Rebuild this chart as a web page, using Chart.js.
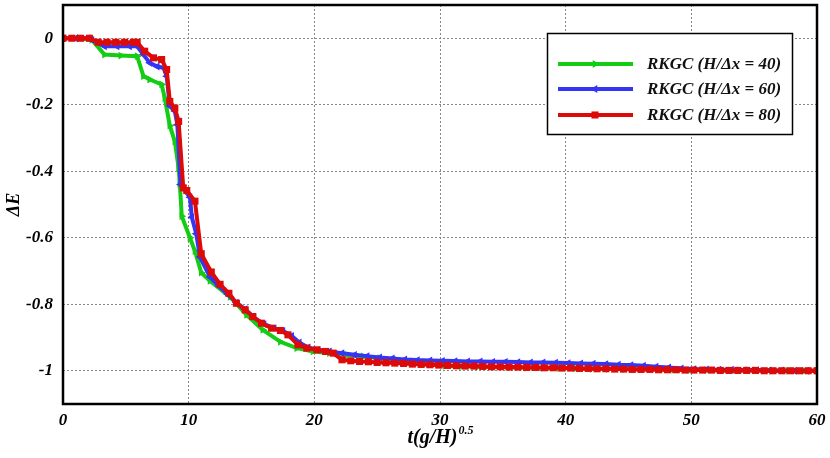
<!DOCTYPE html>
<html>
<head>
<meta charset="utf-8">
<script src="https://cdn.jsdelivr.net/npm/chart.js@4.4.0/dist/chart.umd.min.js"></script>
<style>
html, body { margin: 0; padding: 0; background: #fff; }
</style>
</head>
<body>
<canvas id="energy" width="830" height="458"></canvas>
<script>
// series names
var seriesLabels = ['RKGC (H/\u0394x = 40)', 'RKGC (H/\u0394x = 60)', 'RKGC (H/\u0394x = 80)'];

// H/dx = 40
var tGreen = [0, 1.3, 2.3, 3.3, 4.6, 5.9, 6.4, 6.9, 7.85, 8.1, 8.5, 8.9, 9.2, 9.3, 9.45, 10.1, 10.5, 11.0, 11.7,
  13.3, 14.6, 15.9, 17.3, 18.6, 19.9, 21.2, 22.6, 23.9, 25.2, 26.5, 27.8, 29.1, 30.4, 31.7, 33.0, 34.3, 35.6,
  36.9, 38.2, 39.5, 40.8, 42.1, 43.4, 44.7, 46.0, 47.3, 48.6, 49.9, 51.2, 52.5, 53.8, 55.1, 56.4, 57.7, 59.0, 60];
var eGreen = [0, 0, -0.005, -0.049, -0.052, -0.054, -0.114, -0.124, -0.139, -0.18, -0.263, -0.31, -0.39, -0.44, -0.535, -0.6, -0.64, -0.705, -0.73,
  -0.778, -0.832, -0.877, -0.913, -0.932, -0.942, -0.947, -0.952, -0.957, -0.962, -0.966, -0.972, -0.98, -0.985, -0.987, -0.988, -0.989, -0.99,
  -0.991, -0.991, -0.992, -0.993, -0.994, -0.994, -0.995, -0.996, -0.996, -0.997, -0.998, -0.998, -0.999, -0.999, -0.999, -1, -1, -1, -1];

// H/dx = 60
var tBlue = [0, 1, 2, 2.3, 3.3, 4.3, 5.3, 5.9, 6.4, 6.9, 7.5, 8.0, 8.25, 8.5, 8.9, 9.1, 9.35, 10.1, 10.25, 10.6, 10.9, 11.7,
  12.4, 13.1, 13.8, 14.5, 15.2, 16.0, 16.8, 17.5, 18.2, 18.8, 19.5, 20.3, 21.2, 22.2, 23.2, 24.2, 25.2, 26.2, 27.2, 28.2,
  29.2, 30.2, 31.2, 32.2, 33.2, 34.2, 35.2, 36.2, 37.2, 38.2, 39.2, 40.2, 41.2, 42.2, 43.2, 44.2, 45.2, 46.2, 47.2, 48.2,
  49.2, 50.2, 51.2, 52.2, 53.2, 54.2, 55.2, 56.2, 57.2, 58.2, 59.2, 60];
var eBlue = [0, 0, 0, -0.005, -0.024, -0.024, -0.024, -0.024, -0.049, -0.074, -0.085, -0.089, -0.114, -0.204, -0.219, -0.26, -0.44, -0.478, -0.538, -0.588, -0.658, -0.718,
  -0.745, -0.77, -0.795, -0.815, -0.84, -0.86, -0.872, -0.88, -0.895, -0.915, -0.93, -0.937, -0.942, -0.947, -0.952, -0.956, -0.96, -0.963, -0.966, -0.968,
  -0.969, -0.97, -0.971, -0.972, -0.972, -0.973, -0.973, -0.974, -0.975, -0.975, -0.976, -0.977, -0.978, -0.979, -0.98, -0.982, -0.983, -0.985, -0.988, -0.99,
  -0.993, -0.995, -0.996, -0.997, -0.997, -0.998, -0.998, -0.999, -0.999, -1, -1, -1];

// H/dx = 80
var tRed = [0, 0.7, 1.4, 2.1, 2.8, 3.5, 4.2, 4.9, 5.6, 5.9, 6.5, 7.2, 7.85, 8.25, 8.5, 8.9, 9.2, 9.57, 9.85, 10.5, 11.0, 11.8,
  12.5, 13.2, 13.8, 14.5, 15.1, 15.8, 16.6, 17.3, 17.9, 18.7, 19.4, 20.2, 20.9, 21.5, 22.2, 22.9, 23.6, 24.3, 25.0, 25.7,
  26.4, 27.1, 27.8, 28.5, 29.2, 29.9, 30.6, 31.3, 32.0, 32.7, 33.4, 34.1, 34.8, 35.5, 36.2, 36.9, 37.6, 38.3, 39.0, 39.7,
  40.4, 41.1, 41.8, 42.5, 43.2, 43.9, 44.6, 45.3, 46.0, 46.7, 47.4, 48.1, 48.8, 49.5, 50.2, 50.9, 51.6, 52.3, 53.0, 53.7,
  54.4, 55.1, 55.8, 56.5, 57.2, 57.9, 58.6, 59.3, 60];
var eRed = [0, 0, 0, 0, -0.012, -0.012, -0.012, -0.012, -0.012, -0.012, -0.039, -0.059, -0.064, -0.094, -0.19, -0.21, -0.25, -0.45, -0.458, -0.49, -0.648, -0.703,
  -0.74, -0.767, -0.797, -0.817, -0.837, -0.857, -0.872, -0.879, -0.892, -0.922, -0.932, -0.937, -0.942, -0.947, -0.967, -0.97, -0.972, -0.973, -0.975, -0.976,
  -0.977, -0.978, -0.98, -0.981, -0.982, -0.983, -0.984, -0.985, -0.986, -0.986, -0.987, -0.988, -0.988, -0.989, -0.989, -0.99, -0.99, -0.991, -0.991, -0.992,
  -0.992, -0.993, -0.993, -0.994, -0.994, -0.995, -0.995, -0.996, -0.996, -0.996, -0.997, -0.997, -0.997, -0.998, -0.998, -0.998, -0.998, -0.999, -0.999, -0.999,
  -0.999, -0.999, -1, -1, -1, -1, -1, -1, -1];

var xTicks = [0, 10, 20, 30, 40, 50, 60];
var yTicks = [0, -0.2, -0.4, -0.6, -0.8, -1];

var colors = ['#14cc14', '#3535f5', '#dd0a0a'];
var styles = ['triangle', 'triangle', 'rect'];
var rotations = [90, -90, 0];

function pairs(t, e) {
  return t.map(function (v, i) { return { x: v, y: e[i] }; });
}

var serif = '"Liberation Serif", "Times New Roman", serif';

var framePlugin = {
  id: 'frame',
  afterDraw: function (chart) {
    var ctx = chart.ctx, a = chart.chartArea;
    ctx.save();
    ctx.strokeStyle = '#000';
    ctx.lineWidth = 2.5;
    ctx.strokeRect(a.left, a.top, a.right - a.left, a.bottom - a.top);

    // y title
    ctx.fillStyle = '#000';
    ctx.font = 'italic bold 18px ' + serif;
    ctx.textAlign = 'center';
    ctx.textBaseline = 'middle';
    ctx.save();
    ctx.translate(14, (a.top + a.bottom) / 2);
    ctx.rotate(-Math.PI / 2);
    ctx.fillText('\u0394E', 0, 0);
    ctx.restore();

    // x title with superscript
    ctx.textAlign = 'left';
    ctx.textBaseline = 'alphabetic';
    var main = 't(g/H)', sup = '0.5';
    ctx.font = 'italic bold 20px ' + serif;
    var w1 = ctx.measureText(main).width;
    ctx.font = 'italic bold 12px ' + serif;
    var w2 = ctx.measureText(sup).width;
    var x0 = 440 - (w1 + w2) / 2;
    ctx.font = 'italic bold 20px ' + serif;
    ctx.fillText(main, x0, 443);
    ctx.font = 'italic bold 12px ' + serif;
    ctx.fillText(sup, x0 + w1 + 1, 434);

    // legend
    var lx = 547.5, ly = 33.5, lw = 245, lh = 101;
    ctx.fillStyle = '#fff';
    ctx.fillRect(lx, ly, lw, lh);
    ctx.strokeStyle = '#000';
    ctx.lineWidth = 1.5;
    ctx.strokeRect(lx, ly, lw, lh);
    var rows = [64, 89, 115];
    chart.data.datasets.forEach(function (ds, i) {
      var y = rows[i];
      ctx.strokeStyle = ds.borderColor;
      ctx.lineWidth = 4;
      ctx.beginPath();
      ctx.moveTo(558, y);
      ctx.lineTo(633, y);
      ctx.stroke();
      ctx.fillStyle = ds.borderColor;
      Chart.helpers.drawPoint(ctx, { pointStyle: ds.pointStyle, rotation: ds.pointRotation, radius: ds.pointRadius, borderWidth: 0 }, 595, y);
      ctx.fillStyle = '#111';
      ctx.font = 'italic bold 17px ' + serif;
      ctx.textBaseline = 'middle';
      ctx.fillText(ds.label, 647, y + 1);
    });
    ctx.restore();
  }
};

new Chart(document.getElementById('energy').getContext('2d'), {
  type: 'line',
  data: {
    datasets: [
      { label: seriesLabels[0], data: pairs(tGreen, eGreen), order: 3 },
      { label: seriesLabels[1], data: pairs(tBlue, eBlue), order: 2 },
      { label: seriesLabels[2], data: pairs(tRed, eRed), order: 1 }
    ].map(function (ds, i) {
      ds.borderColor = colors[i];
      ds.backgroundColor = colors[i];
      ds.borderWidth = 4;
      ds.pointStyle = styles[i];
      ds.pointRotation = rotations[i];
      ds.pointRadius = i === 2 ? 5 : 4.5;
      ds.pointBorderWidth = 0;
      ds.tension = 0;
      ds.fill = false;
      return ds;
    })
  },
  options: {
    responsive: false,
    animation: false,
    layout: { padding: { top: 4, right: 13, left: 0, bottom: 0 } },
    plugins: { legend: { display: false }, tooltip: { enabled: false } },
    scales: {
      x: {
        type: 'linear',
        min: 0,
        max: 60,
        afterBuildTicks: function (s) { s.ticks = xTicks.map(function (v) { return { value: v }; }); },
        afterFit: function (s) { s.height = 54; s.paddingLeft = 0; s.paddingRight = 0; },
        ticks: { color: '#000', padding: 6, font: { family: serif, size: 17, style: 'italic', weight: 'bold' } },
        grid: { color: '#888', lineWidth: 1, drawTicks: false },
        border: { display: false, dash: [2, 2] }
      },
      y: {
        min: -1.1,
        max: 0.1,
        afterBuildTicks: function (s) { s.ticks = yTicks.map(function (v) { return { value: v }; }); },
        afterFit: function (s) { s.width = 63; s.paddingTop = 0; s.paddingBottom = 0; },
        ticks: {
          color: '#000', padding: 10,
          font: { family: serif, size: 17, style: 'italic', weight: 'bold' },
          callback: function (v) { return String(v); }
        },
        grid: { color: '#888', lineWidth: 1, drawTicks: false },
        border: { display: false, dash: [2, 2] }
      }
    }
  },
  plugins: [framePlugin]
});
</script>
</body>
</html>
